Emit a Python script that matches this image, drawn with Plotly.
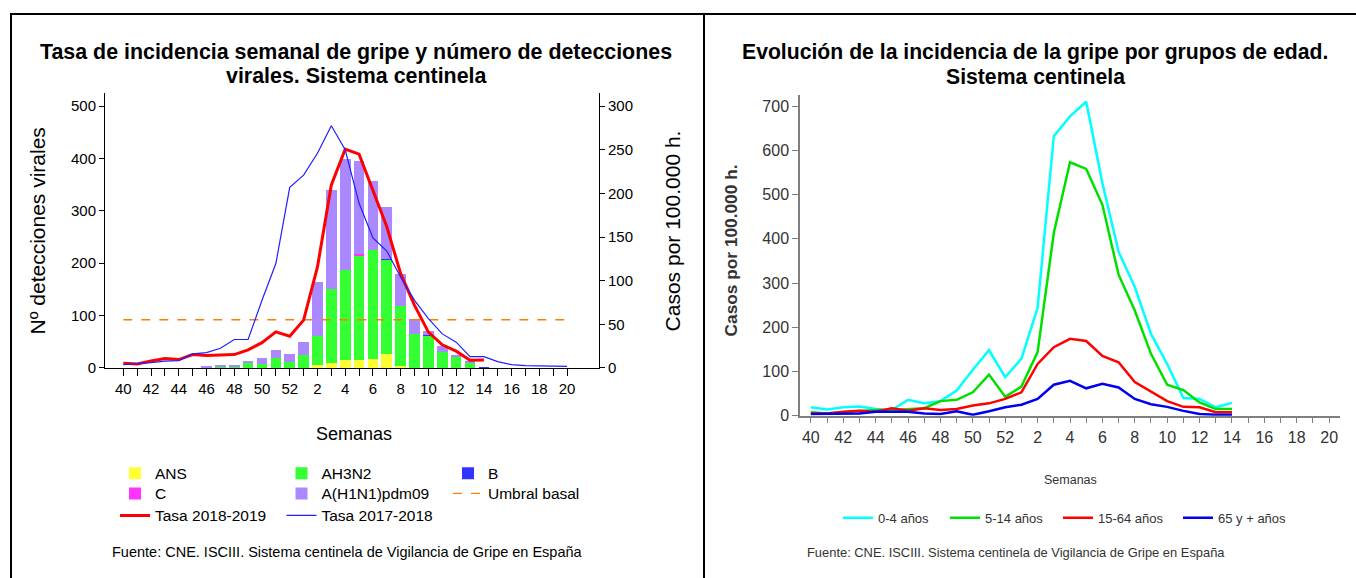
import plotly.graph_objects as go

W = 1356
REF_H = 578          # reference height, all vertical targets measured in it
H = 588              # figure height (the photographed page is scaled to 578 tall)

# ---------------- data ----------------
weeks = ["40", "41", "42", "43", "44", "45", "46", "47", "48", "49", "50", "51", "52",
         "1", "2", "3", "4", "5", "6", "7", "8", "9", "10", "11", "12", "13", "14",
         "15", "16", "17", "18", "19", "20"]
week_ticktext = ["40", "", "42", "", "44", "", "46", "", "48", "", "50", "", "52",
                 "", "2", "", "4", "", "6", "", "8", "", "10", "", "12", "", "14",
                 "", "16", "", "18", "", "20"]

# virological detections (left chart, left axis)
ans_vals   = [0, 0, 0, 0, 0, 0, 0, 0, 0, 0, 0, 0, 0, 0, 6, 9, 15, 15, 17, 27, 4, 0, 0, 0, 0, 0, 0]
ah3n2_vals = [0, 0, 0, 0, 0, 0, 1, 3, 3, 11, 8, 19, 11, 24, 55, 141, 172, 200, 209, 180, 114, 65, 61, 31, 20, 11, 0]
b_vals     = [0, 0, 0, 0, 0, 0, 0, 0, 0, 0, 0, 0, 0, 0, 0, 0, 0, 0, 0, 2, 1, 0, 1, 0, 0, 0, 1]
c_vals     = [0, 0, 0, 0, 0, 0, 0, 0, 0, 0, 0, 0, 0, 0, 0, 0, 0, 2, 0, 0, 0, 0, 0, 0, 0, 0, 0]
h1n1_vals  = [0, 0, 0, 0, 0, 0, 2, 2, 2, 3, 11, 16, 15, 26, 103, 189, 212, 179, 132, 98, 60, 28, 9, 10, 4, 3, 0]

# incidence rates (left chart, right axis)
tasa_1819 = [5.4, 4.6, 8, 10.7, 9.6, 15.3, 14.2, 15, 15.3, 20.7, 29, 41.4, 36.4, 54.8,
             115.8, 209.7, 250.8, 245, 204, 161.8, 108, 71.7, 41, 26.5, 19.2, 8.8, 9.2]
tasa_1718 = [3.8, 4.6, 6.1, 7.7, 8.4, 16.1, 17.6, 22.6, 32.6, 32.6, 77.5, 119.6, 207, 221,
             246, 277.6, 250, 188.7, 149, 134, 104, 77.5, 56.4, 39, 29.5, 13, 13, 7.3,
             3.8, 2.7, 2.7, 1.9, 1.9]
umbral_basal = 55.2

# incidence by age group (right chart)
age_0_4   = [19, 14, 19, 21, 15, 13, 36, 28, 33, 57, 104, 148, 87, 129, 244, 632, 677,
             710, 526, 371, 291, 185, 117, 40, 38, 19, 29]
age_5_14  = [8, 5, 8, 11, 13, 13, 15, 17, 33, 36, 53, 93, 43, 66, 144, 413, 573, 558,
             477, 319, 238, 140, 70, 58, 30, 15, 15]
age_15_64 = [5, 5, 9, 11, 9, 17, 11, 17, 13, 15, 23, 28, 38, 53, 117, 155, 174, 169,
             135, 121, 76, 55, 33, 20, 19, 8, 8]
age_65    = [4, 4, 4, 5, 9, 9, 9, 5, 4, 10, 2, 10, 19, 25, 38, 70, 79, 62, 72, 64, 38,
             26, 20, 11, 4, 2, 2]

# ---------------- figure ----------------
FONT = "Arial, Liberation Sans, sans-serif"
NARROW = "Arial Narrow, Liberation Sans Narrow, Liberation Sans, Arial, sans-serif"

fig = go.Figure()

bar_specs = [
    ("ANS", ans_vals, "#FFFF33", "legend"),
    ("AH3N2", ah3n2_vals, "#33FF33", "legend"),
    ("B", b_vals, "#3333FF", "legend"),
    ("C", c_vals, "#FF33FF", "legend2"),
    ("A(H1N1)pdm09", h1n1_vals, "#AA88FF", "legend2"),
]
for name, vals, col, lg in bar_specs:
    fig.add_trace(go.Bar(
        x=weeks[:len(vals)], y=vals, name=name, marker=dict(color=col, line=dict(width=0)),
        xaxis="x", yaxis="y", legend=lg))

fig.add_trace(go.Scatter(
    x=weeks, y=[umbral_basal] * len(weeks), name="Umbral basal", mode="lines",
    line=dict(color="#FF7F00", width=1.4, dash="dash"), xaxis="x", yaxis="y2", legend="legend2"))
fig.add_trace(go.Scatter(
    x=weeks[:len(tasa_1819)], y=tasa_1819, name="Tasa 2018-2019", mode="lines",
    line=dict(color="#FF0000", width=3), xaxis="x", yaxis="y2", legend="legend3"))
fig.add_trace(go.Scatter(
    x=weeks[:len(tasa_1718)], y=tasa_1718, name="Tasa 2017-2018", mode="lines",
    line=dict(color="#2020FF", width=1.2), xaxis="x", yaxis="y2", legend="legend3"))

age_specs = [
    ("0-4 años", age_0_4, "#00FFFF", 62),
    ("5-14 años", age_5_14, "#00E000", 68),
    ("15-64 años", age_15_64, "#FF0000", 75),
    ("65 y + años", age_65, "#0000F0", 80),
]
for name, vals, col, lw in age_specs:
    fig.add_trace(go.Scatter(
        x=weeks[:len(vals)], y=vals, name=name, mode="lines",
        line=dict(color=col, width=2.5), xaxis="x3", yaxis="y3",
        legend="legend4", legendwidth=lw))


def px(x):
    """reference pixel -> paper fraction"""
    return x / W


def py(y):
    return 1 - y / REF_H


left_axis_common = dict(showline=True, linecolor="black", linewidth=1, ticks="outside",
                        tickcolor="black", ticklen=5, showgrid=False, zeroline=False,
                        tickfont=dict(family=FONT, size=15, color="black"))

right_axis_common = dict(showline=True, linecolor="#7f7f7f", linewidth=1.5, ticks="outside",
                         tickcolor="#7f7f7f", ticklen=6, showgrid=False, zeroline=False,
                         tickfont=dict(family=NARROW, size=16, color="#333333"))

legend_common = dict(orientation="h", xanchor="left", yanchor="top",
                     entrywidth=121.5, entrywidthmode="pixels", bgcolor="rgba(0,0,0,0)",
                     font=dict(family=FONT, size=15.5, color="black"), traceorder="normal")

fig.update_layout(
    width=W, height=H,
    margin=dict(l=0, r=0, t=0, b=0),
    paper_bgcolor="white", plot_bgcolor="white",
    barmode="stack", bargap=0.23,
    font=dict(family=FONT, color="black"),
    xaxis=dict(domain=[px(105), px(599)], anchor="y", type="category",
               categoryorder="array", categoryarray=weeks,
               range=[-1.32, 34.3], tickmode="array", tickvals=weeks,
               ticktext=week_ticktext, **{**left_axis_common, "ticklen": 7}),
    yaxis=dict(domain=[py(367.3), py(93)], anchor="x", range=[0, 524.9],
               tickvals=[0, 100, 200, 300, 400, 500], **left_axis_common),
    yaxis2=dict(overlaying="y", side="right", anchor="x", range=[0, 314.9],
                tickvals=[0, 50, 100, 150, 200, 250, 300], **left_axis_common),
    xaxis3=dict(domain=[px(800), px(1340)], anchor="y3", type="category",
                categoryorder="array", categoryarray=weeks,
                range=[-0.67, 32.67], tickmode="array", tickvals=weeks,
                ticktext=week_ticktext, **right_axis_common),
    yaxis3=dict(domain=[py(415), py(95)], anchor="x3", range=[0, 724.9],
                tickvals=[0, 100, 200, 300, 400, 500, 600, 700], **right_axis_common),
    legend=dict(legend_common, x=px(115), y=py(456)),
    legend2=dict(legend_common, x=px(115), y=py(476)),
    legend3=dict(legend_common, x=px(115), y=py(498)),
    legend4=dict(orientation="h", x=px(838), y=py(502), xanchor="left", yanchor="top",
                 bgcolor="rgba(0,0,0,0)",
                 font=dict(family=FONT, size=13, color="#333333"), traceorder="normal"),
)

annotations = [
    dict(text="<b>Tasa de incidencia semanal de gripe y número de detecciones</b>",
         x=px(356), y=py(52), font=dict(family=FONT, size=21.4, color="black")),
    dict(text="<b>virales. Sistema centinela</b>",
         x=px(356), y=py(76), font=dict(family=FONT, size=21.4, color="black")),
    dict(text="<b>Evolución de la incidencia de la gripe por grupos de edad.</b>",
         x=px(1035), y=py(52), font=dict(family=FONT, size=21.2, color="black")),
    dict(text="<b>Sistema centinela</b>",
         x=px(1035), y=py(76), font=dict(family=FONT, size=21.2, color="black")),
    dict(text="Nº detecciones virales", x=px(37), y=py(231), textangle=-90,
         font=dict(family=FONT, size=21, color="black")),
    dict(text="Casos por 100.000 h.", x=px(672), y=py(231), textangle=-90,
         font=dict(family=FONT, size=21, color="black")),
    dict(text="Semanas", x=px(354), y=py(433), font=dict(family=FONT, size=18, color="black")),
    dict(text="<b>Casos por 100.000 h.</b>", x=px(731), y=py(250), textangle=-90,
         font=dict(family=FONT, size=17.3, color="#333333")),
    dict(text="Semanas", x=px(1070), y=py(479), font=dict(family=FONT, size=12.5, color="#333333")),
    dict(text="Fuente: CNE. ISCIII. Sistema centinela de Vigilancia de Gripe en España",
         x=px(110), y=py(551), xanchor="left", font=dict(family=FONT, size=14.5, color="black")),
    dict(text="Fuente: CNE. ISCIII. Sistema centinela de Vigilancia de Gripe en España",
         x=px(805), y=py(552), xanchor="left", font=dict(family=FONT, size=12.9, color="#333333")),
]
for a in annotations:
    a.setdefault("xanchor", "center")
    a.update(xref="paper", yref="paper", yanchor="middle", showarrow=False)
fig.update_layout(annotations=annotations)

frame = dict(type="line", xref="paper", yref="paper", line=dict(color="black", width=2))
fig.update_layout(shapes=[
    dict(frame, x0=px(10), x1=1, y0=py(14), y1=py(14)),
    dict(frame, x0=px(11), x1=px(11), y0=py(14), y1=0),
    dict(frame, x0=px(704), x1=px(704), y0=py(14), y1=0),
])

# remove the browser's default 8px body margin so the figure starts at the window corner
fig.write_html("out.html", config={"displayModeBar": False},
               post_script="document.body.style.margin='0';document.body.style.overflow='hidden';")
